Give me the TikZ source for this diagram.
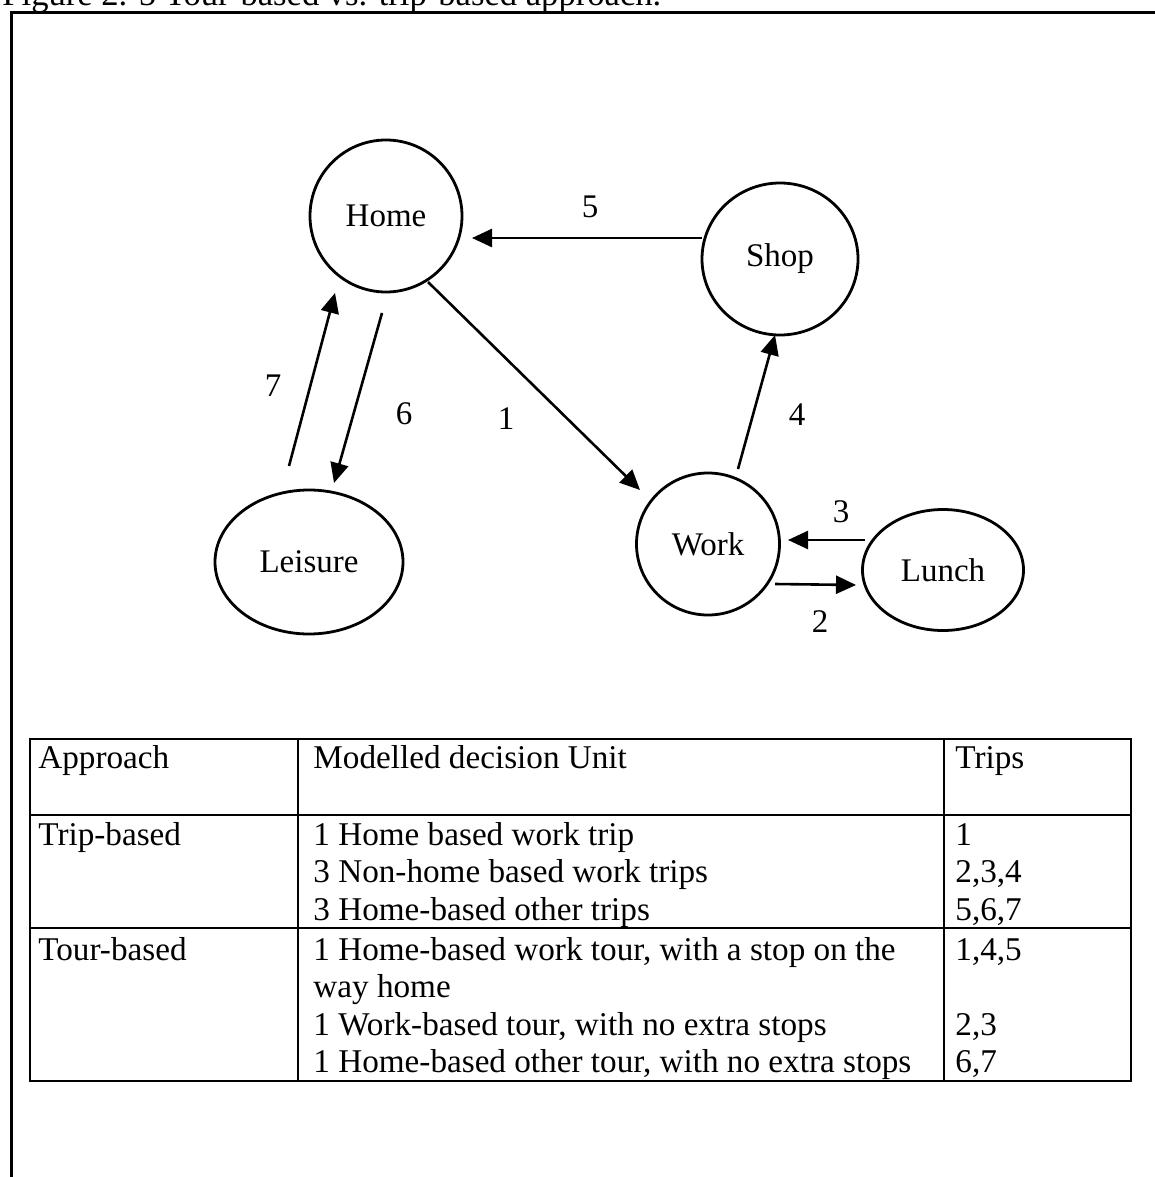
\documentclass[tikz,border=0pt]{standalone}
\usepackage{fontspec}
\setmainfont{Liberation Serif}
\usetikzlibrary{shapes.geometric,arrows.meta,calc}

\begin{document}
\begin{tikzpicture}[x=0.5pt,y=-0.5pt,
  place/.style={ellipse,draw,line width=1.4pt,inner sep=0pt,
    font=\fontsize{16.5}{18}\selectfont},
  arr/.style={line width=1.3pt,-{Triangle[length=10pt,width=9pt]}},
  num/.style={inner sep=0pt,font=\fontsize{16.5}{18}\selectfont},
  cell/.style={anchor=base west,inner sep=0pt,font=\fontsize{16.6}{18.75}\selectfont},
  rule/.style={line width=0.9pt}]

\useasboundingbox (0,0) rectangle (1155,1177);
\clip (0,0) rectangle (1155,1177);

% caption (runs off the top edge) and surrounding frame
\node[anchor=base west,inner sep=0pt,font=\fontsize{17.3}{19}\selectfont] (caption) at (2,6)
  {Figure 2. 5 Tour-based vs. trip-based approach.};
\draw[line width=1.5pt] (11,1190) -- (11,13) -- (1170,13);

% activity places
\node[place,minimum width=76pt,minimum height=76pt] (home) at (386,216) {Home};
\node[place,minimum width=78pt,minimum height=76pt] (shop) at (780,259) {Shop};
\node[place,minimum width=94pt,minimum height=72pt] (leisure) at (309,562) {Leisure};
\node[place,minimum width=71.5pt,minimum height=71pt] (work) at (708,544) {Work};
\node[place,minimum width=80.5pt,minimum height=60.5pt] (lunch) at (943,570) {Lunch};

% trips
\draw[arr] ($(home)+(42,66)$) -- ($(work)+(-68,-54)$);
\draw[arr] ($(work)+(67,40)$) -- ($(lunch)+(-87,15)$);
\draw[arr] ($(lunch)+(-78,-30)$) -- ($(work)+(80,-4)$);
\draw[arr] ($(work)+(30,-75)$) -- ($(shop)+(-5,76)$);
\draw[arr] ($(shop)+(-78,-21)$) -- ($(home)+(86,22)$);
\draw[arr] ($(home)+(-4,97)$) -- ($(leisure)+(25,-79)$);
\draw[arr] ($(leisure)+(-20,-96)$) -- ($(home)+(-51,77)$);

% trip numbers
\node[num] (n1) at (506,419) {1};
\node[num] (n2) at (820,622) {2};
\node[num] (n3) at (841,512) {3};
\node[num] (n4) at (797,415) {4};
\node[num] (n5) at (590,207) {5};
\node[num] (n6) at (404,414) {6};
\node[num] (n7) at (273,386) {7};

% table rules
\draw[rule] (30,739) rectangle (1131,1081);
\draw[rule] (30,815) -- (1131,815);
\draw[rule] (30,928) -- (1131,928);
\draw[rule] (298,739) -- (298,1081);
\draw[rule] (944,739) -- (944,1081);

% table header
\node[cell] (h1) at (38,768) {Approach};
\node[cell] (h2) at (313,768) {Modelled decision Unit};
\node[cell] (h3) at (955,768) {Trips};

% trip-based rows
\node[cell] (a1) at (38,845) {Trip-based};
\node[cell] (b1) at (313,845) {1 Home based work trip};
\node[cell] (c1) at (955,845) {1};
\node[cell] (b2) at (313,882.5) {3 Non-home based work trips};
\node[cell] (c2) at (955,882.5) {2,3,4};
\node[cell] (b3) at (313,920) {3 Home-based other trips};
\node[cell] (c3) at (955,920) {5,6,7};

% tour-based rows
\node[cell] (a2) at (38,960) {Tour-based};
\node[cell] (b4) at (313,960) {1 Home-based work tour, with a stop on the};
\node[cell] (c4) at (955,960) {1,4,5};
\node[cell] (b5) at (313,997.5) {way home};
\node[cell] (b6) at (313,1035) {1 Work-based tour, with no extra stops};
\node[cell] (c6) at (955,1035) {2,3};
\node[cell] (b7) at (313,1072.5) {1 Home-based other tour, with no extra stops};
\node[cell] (c7) at (955,1072.5) {6,7};
\end{tikzpicture}
\end{document}
